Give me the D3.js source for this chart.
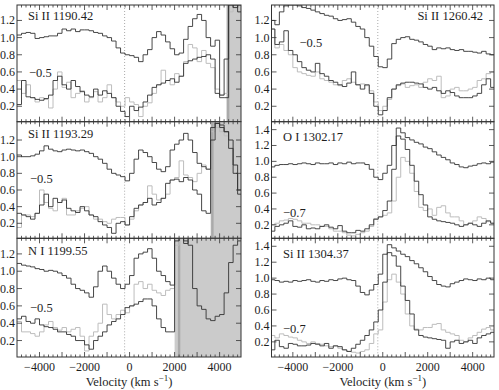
<!DOCTYPE html>
<html>
<head>
<meta charset="utf-8">
<script src="https://cdn.jsdelivr.net/npm/d3@7"></script>
<style>
body { margin: 0; background: #fff; }
</style>
</head>
<body>
<svg id="chart" width="499" height="390" font-family="'Liberation Serif', 'Times New Roman', Times, 'DejaVu Serif', serif"></svg>
<script>
// bin left edges (km/s), 200 km/s bins
const velocity = [-5000,-4800,-4600,-4400,-4200,-4000,-3800,-3600,-3400,-3200,
  -3000,-2800,-2600,-2400,-2200,-2000,-1800,-1600,-1400,-1200,
  -1000,-800,-600,-400,-200,0,200,400,600,800,
  1000,1200,1400,1600,1800,2000,2200,2400,2600,2800,
  3000,3200,3400,3600,3800,4000,4200,4400,4600,4800];

const lineNames = ["Si II 1190.42", "Si II 1193.29", "N I 1199.55", "Si II 1260.42", "O I 1302.17", "Si II 1304.37"];
const offsetLabels = ["\u22120.5", "\u22120.5", "\u22120.5", "\u22120.5", "\u22120.7", "\u22120.7"];
const xTickLabels = [-4000, -2000, 0, 2000, 4000];
const yTicksShort = [0.2, 0.4, 0.6, 0.8, 1.0, 1.2];
const yTicksTall = [0.2, 0.4, 0.6, 0.8, 1.0, 1.2, 1.4];
const systemicVelocity = -220;

// blended regions (left column only)
const shadeStart = [4300, 3600, 2000];
const shadeMark = [4380, 3680, 2200];

// Si II 1190.42
const si1190Upper = [1.03,1.05,1.06,1.05,0.99,1.0,1.01,1.02,1.02,1.05,1.1,1.08,1.1,1.07,1.09,1.09,1.08,1.06,1.05,1.02,
  1.0,0.96,0.88,0.82,0.8,0.79,0.77,0.72,0.8,0.86,1.0,1.07,1.03,0.95,0.87,0.8,0.82,0.98,1.13,1.22,
  1.27,1.2,1.0,0.9,0.97,0.33,0.75,1.4,1.38,1.3];
const si1190Lower = [0.22,0.5,0.31,0.3,0.28,0.27,0.29,0.33,0.5,0.55,0.45,0.4,0.5,0.43,0.37,0.33,0.31,0.4,0.33,0.38,
  0.35,0.3,0.2,0.14,0.08,0.2,0.15,0.19,0.25,0.33,0.42,0.45,0.47,0.5,0.52,0.48,0.55,0.7,0.73,0.75,
  0.77,0.78,0.8,0.75,0.35,0.3,0.3,1.38,1.35,1.38];
const si1190Gray = [0.5,0.35,0.45,0.3,0.25,0.3,0.28,0.18,0.4,0.6,0.42,0.48,0.3,0.35,0.38,0.25,0.3,0.37,0.25,0.3,
  0.45,0.3,0.25,0.2,0.3,0.25,0.22,0.08,0.2,0.24,0.35,0.45,0.62,0.5,0.45,0.58,0.55,0.72,0.92,0.88,
  0.72,0.85,0.7,0.65,0.4,0.33,0.35,1.3,1.35,1.3];

// Si II 1193.29
const si1193Upper = [1.02,1.0,1.0,1.01,1.03,1.07,1.13,1.09,1.07,1.06,1.08,1.09,1.08,1.07,1.08,1.06,1.04,1.0,0.97,0.92,
  0.85,0.8,0.78,0.76,0.71,0.8,0.97,1.08,1.05,1.0,0.93,0.85,0.82,0.88,1.08,1.15,1.2,1.28,1.2,1.05,
  0.92,0.88,0.85,1.35,1.4,1.38,1.3,1.1,0.8,0.55];
const si1193Lower = [0.32,0.3,0.28,0.25,0.32,0.42,0.55,0.4,0.5,0.45,0.48,0.38,0.35,0.33,0.4,0.35,0.3,0.28,0.22,0.18,
  0.15,0.08,0.2,0.22,0.18,0.28,0.38,0.42,0.45,0.5,0.42,0.45,0.5,0.68,0.72,0.73,0.7,0.75,0.72,0.6,
  0.55,0.35,0.32,1.2,1.4,1.35,1.3,1.2,0.9,0.6];
const si1193Gray = [0.15,0.3,0.3,0.28,0.32,0.6,0.45,0.38,0.35,0.45,0.5,0.3,0.3,0.35,0.38,0.4,0.3,0.25,0.25,0.22,
  0.2,0.25,0.27,0.27,0.18,0.25,0.35,0.42,0.45,0.65,0.55,0.48,0.5,0.55,0.72,0.75,0.95,0.78,0.75,0.7,
  0.8,0.9,0.85,1.3,1.35,1.3,1.25,1.2,0.9,0.6];

// N I 1199.55
const n1199Upper = [1.09,1.07,1.06,1.05,1.03,1.02,1.0,1.01,1.0,0.98,0.95,0.92,0.85,0.8,0.78,0.75,0.7,0.82,1.0,1.06,
  1.0,0.92,0.85,0.8,0.85,0.95,1.15,1.2,1.22,1.26,1.15,1.0,0.95,0.88,0.84,1.38,1.4,1.35,1.3,0.8,
  0.6,0.56,0.45,0.43,0.48,0.5,0.75,1.1,1.3,1.35];
const n1199Lower = [0.45,0.48,0.42,0.4,0.45,0.38,0.36,0.35,0.33,0.3,0.3,0.27,0.25,0.2,0.2,0.15,0.1,0.2,0.25,0.3,
  0.38,0.42,0.45,0.5,0.58,0.6,0.62,0.65,0.68,0.68,0.6,0.45,0.35,0.3,0.3,1.35,1.42,1.32,1.4,1.45,
  1.45,1.45,1.45,1.45,1.45,1.45,1.45,1.45,1.45,1.45];
const n1199Gray = [0.42,0.3,0.3,0.28,0.25,0.3,0.38,0.42,0.35,0.32,0.35,0.3,0.33,0.35,0.25,0.08,0.25,0.3,0.4,0.62,
  0.5,0.45,0.5,0.55,0.52,0.6,0.85,0.88,0.8,0.85,0.78,0.75,0.72,0.78,0.8,1.3,1.38,1.45,1.45,1.45,
  1.45,1.45,1.45,1.45,1.45,1.45,1.45,1.45,1.45,1.45];

// Si II 1260.42
const si1260Upper = [1.2,1.15,1.3,1.37,1.38,1.38,1.37,1.35,1.34,1.32,1.3,1.28,1.26,1.25,1.22,1.2,1.21,1.22,1.18,1.13,
  1.1,1.0,0.9,0.78,0.66,0.65,0.75,0.93,0.98,1.0,1.01,0.98,0.97,0.95,0.92,0.9,0.86,0.88,0.87,0.88,
  0.86,0.85,0.86,0.84,0.84,0.83,0.82,0.84,0.81,0.8];
const si1260Lower = [1.1,0.92,0.95,1.08,0.85,0.8,0.72,0.65,0.62,0.6,0.7,0.58,0.55,0.5,0.48,0.45,0.43,0.47,0.6,0.45,
  0.4,0.45,0.35,0.2,0.1,0.15,0.3,0.4,0.45,0.47,0.48,0.48,0.47,0.46,0.42,0.4,0.42,0.38,0.35,0.38,
  0.36,0.32,0.3,0.3,0.3,0.32,0.35,0.45,0.52,0.42];
const si1260Gray = [1.1,0.88,0.92,0.85,0.8,0.65,0.6,0.58,0.56,0.55,0.6,0.52,0.5,0.48,0.45,0.44,0.5,0.52,0.48,0.45,
  0.46,0.44,0.38,0.25,0.15,0.2,0.28,0.4,0.44,0.46,0.42,0.44,0.45,0.42,0.48,0.52,0.5,0.55,0.3,0.32,
  0.4,0.42,0.38,0.38,0.4,0.42,0.5,0.52,0.58,0.6];

// O I 1302.17
const o1302Upper = [0.93,0.95,0.96,0.96,0.97,0.96,0.97,0.98,0.97,0.96,0.98,0.97,0.97,0.98,0.96,0.98,0.97,0.99,0.97,0.98,
  0.98,0.96,0.9,0.8,0.77,0.85,0.95,1.2,1.42,1.36,1.3,1.27,1.24,1.22,1.18,1.16,1.12,1.08,1.05,1.02,
  0.98,0.96,0.93,0.92,0.94,0.95,0.97,0.98,0.97,0.99];
const o1302Lower = [0.12,0.18,0.2,0.22,0.25,0.18,0.17,0.2,0.15,0.16,0.15,0.18,0.2,0.17,0.15,0.19,0.12,0.1,0.1,0.13,
  0.12,0.15,0.2,0.27,0.3,0.38,0.5,0.9,1.32,1.28,1.15,0.95,0.75,0.58,0.45,0.3,0.27,0.25,0.24,0.23,
  0.22,0.2,0.18,0.2,0.22,0.2,0.18,0.22,0.25,0.22];
const o1302Gray = [0.2,0.22,0.25,0.26,0.28,0.27,0.25,0.22,0.22,0.2,0.2,0.18,0.18,0.15,0.12,0.12,0.1,0.07,0.06,0.08,
  0.1,0.12,0.18,0.28,0.3,0.32,0.35,0.5,0.8,1.05,1.0,0.85,0.62,0.42,0.38,0.4,0.32,0.42,0.44,0.35,
  0.3,0.3,0.25,0.2,0.22,0.25,0.3,0.28,0.24,0.22];

// Si II 1304.37
const si1304Upper = [0.98,0.97,0.95,0.96,0.95,0.97,0.96,0.97,0.98,0.96,0.95,0.97,0.96,0.98,0.97,0.99,1.0,0.98,0.97,0.9,
  0.82,0.79,0.85,0.92,1.05,1.3,1.42,1.38,1.34,1.3,1.27,1.22,1.18,1.13,1.08,1.02,0.97,0.92,0.9,0.89,
  0.93,0.95,0.97,0.99,0.98,0.97,0.99,0.98,1.0,0.98];
const si1304Lower = [0.1,0.22,0.14,0.12,0.18,0.17,0.15,0.15,0.16,0.18,0.17,0.15,0.18,0.12,0.15,0.14,0.1,0.08,0.12,0.17,
  0.22,0.28,0.35,0.45,0.6,0.95,1.32,1.28,1.15,0.9,0.72,0.55,0.35,0.28,0.26,0.25,0.24,0.23,0.22,0.12,
  0.2,0.22,0.18,0.2,0.22,0.18,0.25,0.28,0.3,0.32];
const si1304Gray = [0.28,0.25,0.3,0.28,0.26,0.25,0.22,0.2,0.18,0.2,0.18,0.17,0.15,0.14,0.15,0.12,0.1,0.08,0.07,0.06,
  0.08,0.1,0.18,0.3,0.35,0.7,0.98,1.05,0.95,0.8,0.55,0.4,0.36,0.35,0.38,0.38,0.42,0.43,0.35,0.32,
  0.3,0.28,0.22,0.2,0.25,0.28,0.32,0.36,0.38,0.35];

const panelSeries = [
  [si1190Upper, si1190Lower, si1190Gray],
  [si1193Upper, si1193Lower, si1193Gray],
  [n1199Upper, n1199Lower, n1199Gray],
  [si1260Upper, si1260Lower, si1260Gray],
  [o1302Upper, o1302Lower, o1302Gray],
  [si1304Upper, si1304Lower, si1304Gray]
];

// layout
const colX = [[17, 241], [271.5, 494]];
const colDomain = [[-5000, 4950], [-4950, 4950]];
const rowY = [[5, 121.7], [121.7, 238.3], [238.3, 357]];
const panels = [
  {col: 0, row: 0, y: [0.02, 1.38], ticks: yTicksShort, name: [11, 14.5, "start"], off: [12, 72]},
  {col: 0, row: 1, y: [0.02, 1.42], ticks: yTicksShort, name: [11, 16.5, "start"], off: [13, 61]},
  {col: 0, row: 2, y: [0.01, 1.38], ticks: yTicksShort, name: [11, 17, "start"], off: [13, 74]},
  {col: 1, row: 0, y: [0.02, 1.38], ticks: yTicksShort, name: [-11, 14.5, "end"], off: [28, 42]},
  {col: 1, row: 1, y: [0.03, 1.5], ticks: yTicksTall, name: [11.5, 19, "start"], off: [11.5, 95]},
  {col: 1, row: 2, y: [0.01, 1.5], ticks: yTicksTall, name: [11.5, 20, "start"], off: [11.5, 94.5]}
];

const svg = d3.select("#chart");
const ink = "#333";
const textInk = "#1e1e1e";

panels.forEach((p, i) => {
  const [x0, x1] = colX[p.col];
  const [y0, y1] = rowY[p.row];
  const x = d3.scaleLinear().domain(colDomain[p.col]).range([x0, x1]);
  const y = d3.scaleLinear().domain(p.y).range([y1, y0]);
  const g = svg.append("g");

  const clipId = "clip" + i;
  svg.append("clipPath").attr("id", clipId)
    .append("rect").attr("x", x0).attr("y", y0).attr("width", x1 - x0).attr("height", y1 - y0);
  const plot = g.append("g").attr("clip-path", "url(#" + clipId + ")");

  // blended region
  if (p.col === 0) {
    plot.append("rect")
      .attr("x", x(shadeStart[p.row])).attr("y", y0)
      .attr("width", x1 - x(shadeStart[p.row])).attr("height", y1 - y0)
      .attr("fill", "#cbcbcb");
    plot.append("rect")
      .attr("x", x(shadeMark[p.row]) - 1.2).attr("y", y0)
      .attr("width", 2.4).attr("height", y1 - y0)
      .attr("fill", "#aaaaaa");
  }

  // systemic velocity
  plot.append("line")
    .attr("x1", x(systemicVelocity)).attr("x2", x(systemicVelocity))
    .attr("y1", y0).attr("y2", y1)
    .attr("stroke", "#aaa").attr("stroke-width", 1)
    .attr("stroke-dasharray", "1,2");

  const step = d3.line()
    .x(d => x(d[0]))
    .y(d => y(d[1]))
    .curve(d3.curveStepAfter);
  const toPts = vals => {
    const pts = vals.map((v, k) => [velocity[k], v]);
    pts.push([5000, vals[vals.length - 1]]);
    return pts;
  };
  const [upper, lower, gray] = panelSeries[i];
  plot.append("path").attr("d", step(toPts(gray)))
    .attr("fill", "none").attr("stroke", "#bdbdbd").attr("stroke-width", 1);
  plot.append("path").attr("d", step(toPts(lower)))
    .attr("fill", "none").attr("stroke", ink).attr("stroke-width", 0.9);
  plot.append("path").attr("d", step(toPts(upper)))
    .attr("fill", "none").attr("stroke", ink).attr("stroke-width", 0.9);

  // ticks, inward on all four sides
  const majorX = d3.range(-4000, 4001, 1000);
  const minorX = d3.range(-4800, 4900, 200).filter(v => v % 1000 !== 0);
  const tk = g.append("g").attr("stroke", ink).attr("stroke-width", 0.8);
  majorX.forEach(v => {
    tk.append("line").attr("x1", x(v)).attr("x2", x(v)).attr("y1", y1).attr("y2", y1 - 5);
    tk.append("line").attr("x1", x(v)).attr("x2", x(v)).attr("y1", y0).attr("y2", y0 + 5);
  });
  minorX.forEach(v => {
    if (x(v) <= x0 || x(v) >= x1) return;
    tk.append("line").attr("x1", x(v)).attr("x2", x(v)).attr("y1", y1).attr("y2", y1 - 2.5);
    tk.append("line").attr("x1", x(v)).attr("x2", x(v)).attr("y1", y0).attr("y2", y0 + 2.5);
  });
  p.ticks.forEach(t => {
    tk.append("line").attr("x1", x0).attr("x2", x0 + 5).attr("y1", y(t)).attr("y2", y(t));
    tk.append("line").attr("x1", x1).attr("x2", x1 - 5).attr("y1", y(t)).attr("y2", y(t));
  });

  // frame
  g.append("rect").attr("x", x0).attr("y", y0).attr("width", x1 - x0).attr("height", y1 - y0)
    .attr("fill", "none").attr("stroke", ink).attr("stroke-width", 1);

  // y tick labels
  g.selectAll(".yl").data(p.ticks).enter().append("text")
    .attr("x", x0 - 2).attr("y", d => y(d) + 4)
    .attr("text-anchor", "end").attr("font-size", 12).attr("fill", textInk)
    .text(d => d3.format(".1f")(d));

  // line name and offset
  g.append("text")
    .attr("x", p.name[2] === "end" ? x1 + p.name[0] : x0 + p.name[0])
    .attr("y", y0 + p.name[1])
    .attr("text-anchor", p.name[2]).attr("font-size", 12.5).attr("fill", textInk)
    .text(lineNames[i]);
  g.append("text")
    .attr("x", x0 + p.off[0]).attr("y", y0 + p.off[1])
    .attr("font-size", 12.5).attr("fill", textInk)
    .text(offsetLabels[i]);

  // x axis labels on bottom row
  if (p.row === 2) {
    g.selectAll(".xl").data(xTickLabels).enter().append("text")
      .attr("x", d => x(d)).attr("y", y1 + 13.5)
      .attr("text-anchor", "middle").attr("font-size", 12).attr("fill", textInk)
      .text(d => d < 0 ? "\u2212" + Math.abs(d) : d);
    const title = g.append("text")
      .attr("x", (x0 + x1) / 2).attr("y", y1 + 28.5)
      .attr("text-anchor", "middle").attr("font-size", 12.5).attr("fill", textInk);
    title.append("tspan").text("Velocity (km s");
    title.append("tspan").attr("dy", -5).attr("font-size", 9).text("\u22121");
    title.append("tspan").attr("dy", 5).text(")");
  }
});
</script>
</body>
</html>
